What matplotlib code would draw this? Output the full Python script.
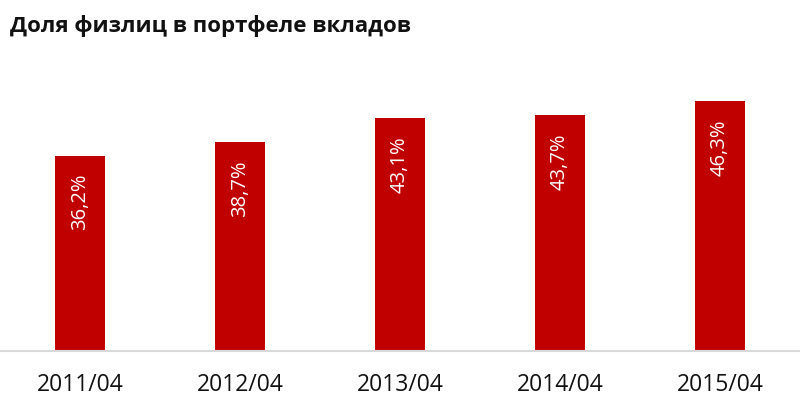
import matplotlib
matplotlib.use("Agg")
import matplotlib.pyplot as plt

plt.rcParams["font.family"] = ["Open Sans", "DejaVu Sans"]

categories = ["2011/04", "2012/04", "2013/04", "2014/04", "2015/04"]
values = [36.2, 38.7, 43.1, 43.7, 46.3]
labels = ["36,2%", "38,7%", "43,1%", "43,7%", "46,3%"]

fig = plt.figure(figsize=(8, 4.13), dpi=100)
ax = fig.add_axes([0, 62 / 413, 1, 270 / 413])

x = range(len(categories))
ax.bar(x, values, width=0.31, color="#C00000", zorder=2)

for i, (v, lab) in enumerate(zip(values, labels)):
    ax.annotate(lab, (i, v), xytext=(0, -13), textcoords="offset points",
                rotation=90, ha="center", va="top", color="white", fontsize=14.5)

ax.set_xlim(-0.5, len(categories) - 0.5)
ax.set_ylim(0, 50)
ax.set_xticks(list(x))
ax.set_xticklabels(categories, fontsize=16.5, color="#111111")
ax.tick_params(axis="x", length=0, pad=16)
ax.set_yticks([])
for s in ["top", "right", "left"]:
    ax.spines[s].set_visible(False)
ax.spines["bottom"].set_color("#d9d9d9")
ax.spines["bottom"].set_linewidth(1.5)
ax.patch.set_alpha(0)

fig.text(10 / 800, 1 - 26 / 413, "Доля физлиц в портфеле вкладов",
         fontsize=16, fontweight="bold", color="#111111", va="center", ha="left")

fig.savefig("out.png", dpi=100)
